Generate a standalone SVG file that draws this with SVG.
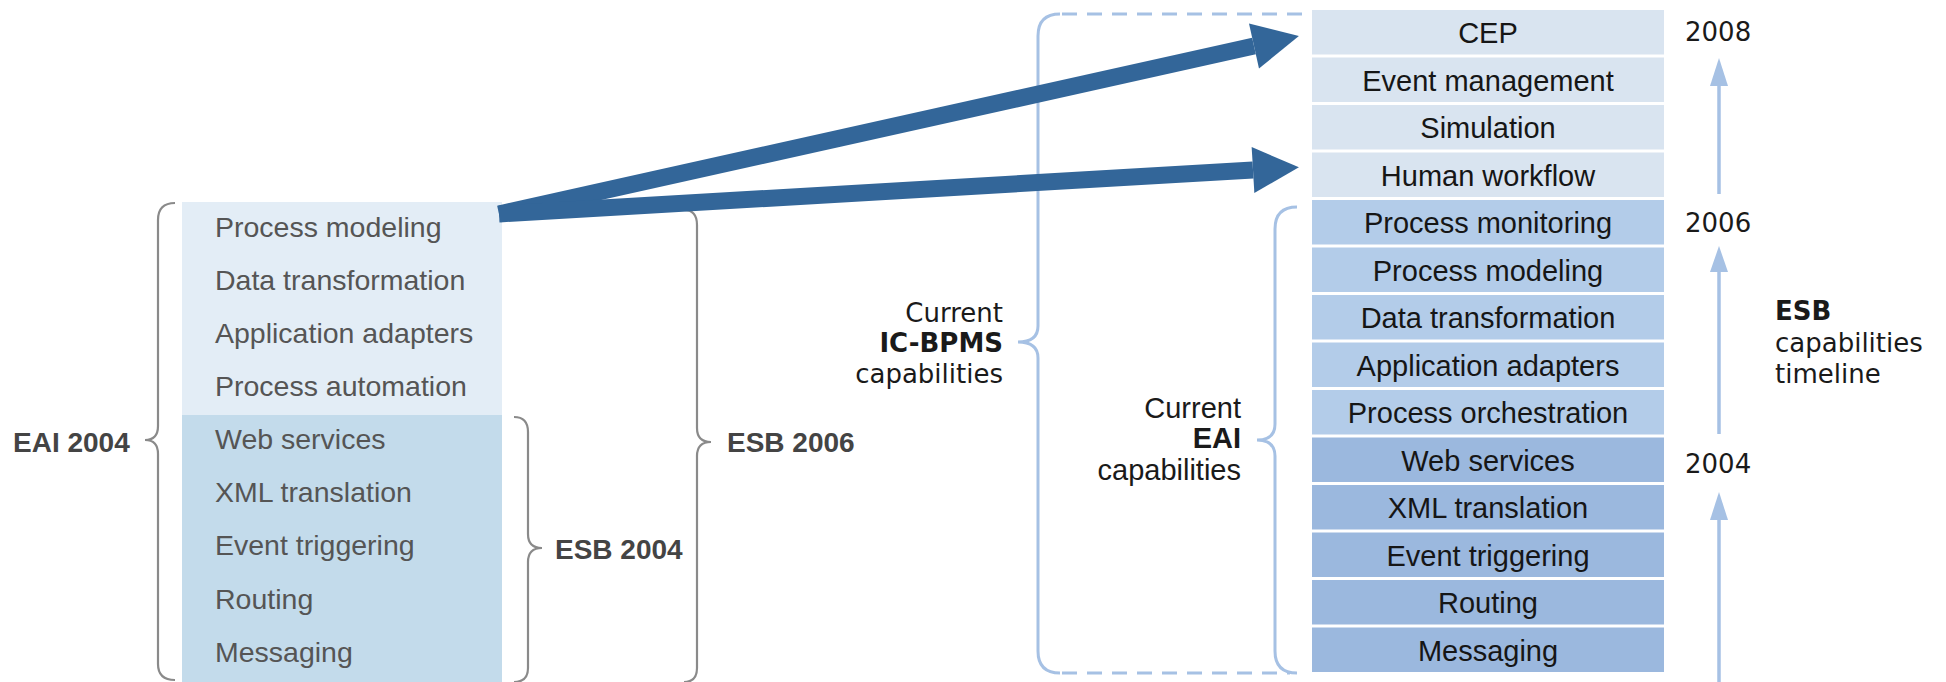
<svg xmlns="http://www.w3.org/2000/svg" width="1946" height="682" viewBox="0 0 1946 682">
<style>
.lt{font-family:"Liberation Sans",Arial,sans-serif;font-size:28.5px;fill:#555}
.lb{font-family:"Liberation Sans",Arial,sans-serif;font-size:28px;font-weight:bold;fill:#444}
.rt{font-family:"Liberation Sans",Arial,sans-serif;font-size:29px;fill:#161616;text-anchor:middle}
.lab{font-family:"DejaVu Sans",Verdana,sans-serif;font-size:26px;fill:#1a1a1a}
.labm{font-family:"Liberation Sans",Arial,sans-serif;font-size:29px;fill:#1a1a1a}
.r1{fill:#d9e4f0}.r2{fill:#b3cce9}.r3{fill:#9bb8de}
.gb{fill:none;stroke:#8a8a8a;stroke-width:2.2}
.bb{fill:none;stroke:#a6c1e4;stroke-width:3}
.bd{fill:none;stroke:#a6c1e4;stroke-width:3;stroke-dasharray:15 10}
.tl{stroke:#a6c1e4;stroke-width:3.5}
.th{fill:#a6c1e4}
.arr{stroke:#336699;stroke-width:17;fill:none;marker-end:url(#ah)}
</style>
<defs>
<marker id="ah" markerUnits="userSpaceOnUse" markerWidth="46" markerHeight="46" refX="0" refY="23" orient="auto" overflow="visible">
<path d="M0,0 L46,23 L0,46 z" fill="#336699"/>
</marker>
</defs>
<rect width="1946" height="682" fill="#fff"/>

<g id="left-stack">
<rect x="182" y="202" width="320" height="213" fill="#e3edf6"/>
<rect x="182" y="415" width="320" height="267" fill="#c3dbeb"/>
</g>
<g id="l-process-modeling"><text class="lt" x="215" y="237">Process modeling</text></g>
<g id="l-data-transformation"><text class="lt" x="215" y="290">Data transformation</text></g>
<g id="l-application-adapters"><text class="lt" x="215" y="343">Application adapters</text></g>
<g id="l-process-automation"><text class="lt" x="215" y="396">Process automation</text></g>
<g id="l-web-services"><text class="lt" x="215" y="449">Web services</text></g>
<g id="l-xml-translation"><text class="lt" x="215" y="502">XML translation</text></g>
<g id="l-event-triggering"><text class="lt" x="215" y="555">Event triggering</text></g>
<g id="l-routing"><text class="lt" x="215" y="609">Routing</text></g>
<g id="l-messaging"><text class="lt" x="215" y="662">Messaging</text></g>

<g id="lbl-eai2004"><text class="lb" x="13" y="452">EAI 2004</text></g>
<g id="lbl-esb2004"><text class="lb" x="555" y="559">ESB 2004</text></g>
<g id="lbl-esb2006"><text class="lb" x="727" y="452">ESB 2006</text></g>

<g id="braces">
<path class="gb" d="M175,203 Q158,203 158,220 L158,426 Q158,440 145,440 Q158,440 158,454 L158,664 Q158,680 175,680"/>
<path class="gb" d="M514,417 Q528,417 528,432 L528,534 Q528,548 542,548 Q528,548 528,562 L528,668 Q528,682 514,682"/>
<path class="gb" d="M684,210 Q697,210 697,225 L697,428 Q697,442 711,442 Q697,442 697,456 L697,668 Q697,682 684,682"/>
<path class="bb" d="M1060,14 Q1038,14 1038,36 L1038,326 Q1038,342 1018,342 Q1038,342 1038,358 L1038,651 Q1038,673 1060,673"/>
<path class="bd" d="M1062,14 L1312,14"/>
<path class="bd" d="M1062,673 L1290,673"/>
<path class="bb" d="M1297,207 Q1275,207 1275,229 L1275,424 Q1275,440 1257,440 Q1275,440 1275,456 L1275,651 Q1275,673 1297,673"/>
</g>

<g id="lbl-icbpms">
<text class="lab" x="1003" y="322" text-anchor="end">Current</text>
<text class="lab" x="1003" y="352" text-anchor="end" font-weight="bold">IC-BPMS</text>
<text class="lab" x="1003" y="383" text-anchor="end">capabilities</text>
</g>
<g id="lbl-eai">
<text class="labm" x="1241" y="418" text-anchor="end">Current</text>
<text class="labm" x="1241" y="448" text-anchor="end" font-weight="bold">EAI</text>
<text class="labm" x="1241" y="480" text-anchor="end">capabilities</text>
</g>

<g id="r-cep"><rect class="r1" x="1312" y="10" width="352" height="44.5"/><text class="rt" x="1488" y="43">CEP</text></g>
<g id="r-event-management"><rect class="r1" x="1312" y="57.5" width="352" height="44.5"/><text class="rt" x="1488" y="90.5">Event management</text></g>
<g id="r-simulation"><rect class="r1" x="1312" y="105" width="352" height="44.5"/><text class="rt" x="1488" y="138">Simulation</text></g>
<g id="r-human-workflow"><rect class="r1" x="1312" y="152.5" width="352" height="44.5"/><text class="rt" x="1488" y="185.5">Human workflow</text></g>
<g id="r-process-monitoring"><rect class="r2" x="1312" y="200" width="352" height="44.5"/><text class="rt" x="1488" y="233">Process monitoring</text></g>
<g id="r-process-modeling"><rect class="r2" x="1312" y="247.5" width="352" height="44.5"/><text class="rt" x="1488" y="280.5">Process modeling</text></g>
<g id="r-data-transformation"><rect class="r2" x="1312" y="295" width="352" height="44.5"/><text class="rt" x="1488" y="328">Data transformation</text></g>
<g id="r-application-adapters"><rect class="r2" x="1312" y="342.5" width="352" height="44.5"/><text class="rt" x="1488" y="375.5">Application adapters</text></g>
<g id="r-process-orchestration"><rect class="r2" x="1312" y="390" width="352" height="44.5"/><text class="rt" x="1488" y="423">Process orchestration</text></g>
<g id="r-web-services"><rect class="r3" x="1312" y="437.5" width="352" height="44.5"/><text class="rt" x="1488" y="470.5">Web services</text></g>
<g id="r-xml-translation"><rect class="r3" x="1312" y="485" width="352" height="44.5"/><text class="rt" x="1488" y="518">XML translation</text></g>
<g id="r-event-triggering"><rect class="r3" x="1312" y="532.5" width="352" height="44.5"/><text class="rt" x="1488" y="565.5">Event triggering</text></g>
<g id="r-routing"><rect class="r3" x="1312" y="580" width="352" height="44.5"/><text class="rt" x="1488" y="613">Routing</text></g>
<g id="r-messaging"><rect class="r3" x="1312" y="627.5" width="352" height="44.5"/><text class="rt" x="1488" y="660.5">Messaging</text></g>

<g id="timeline">
<text class="lab" x="1685" y="41">2008</text>
<text class="lab" x="1685" y="232">2006</text>
<text class="lab" x="1685" y="473">2004</text>
<line class="tl" x1="1719" y1="682" x2="1719" y2="518"/>
<polygon class="th" points="1719,492 1710,520 1728,520"/>
<line class="tl" x1="1719" y1="434" x2="1719" y2="268"/>
<polygon class="th" points="1719,246 1710,272 1728,272"/>
<line class="tl" x1="1719" y1="194" x2="1719" y2="82"/>
<polygon class="th" points="1719,58 1710,86 1728,86"/>
</g>
<g id="lbl-esb-timeline">
<text class="lab" x="1775" y="320" font-weight="bold">ESB</text>
<text class="lab" x="1775" y="352">capabilities</text>
<text class="lab" x="1775" y="383">timeline</text>
</g>

<g id="connectors">
<line class="arr" x1="499" y1="214" x2="1254" y2="46"/>
<line class="arr" x1="499" y1="214" x2="1253" y2="170"/>
</g>
</svg>
